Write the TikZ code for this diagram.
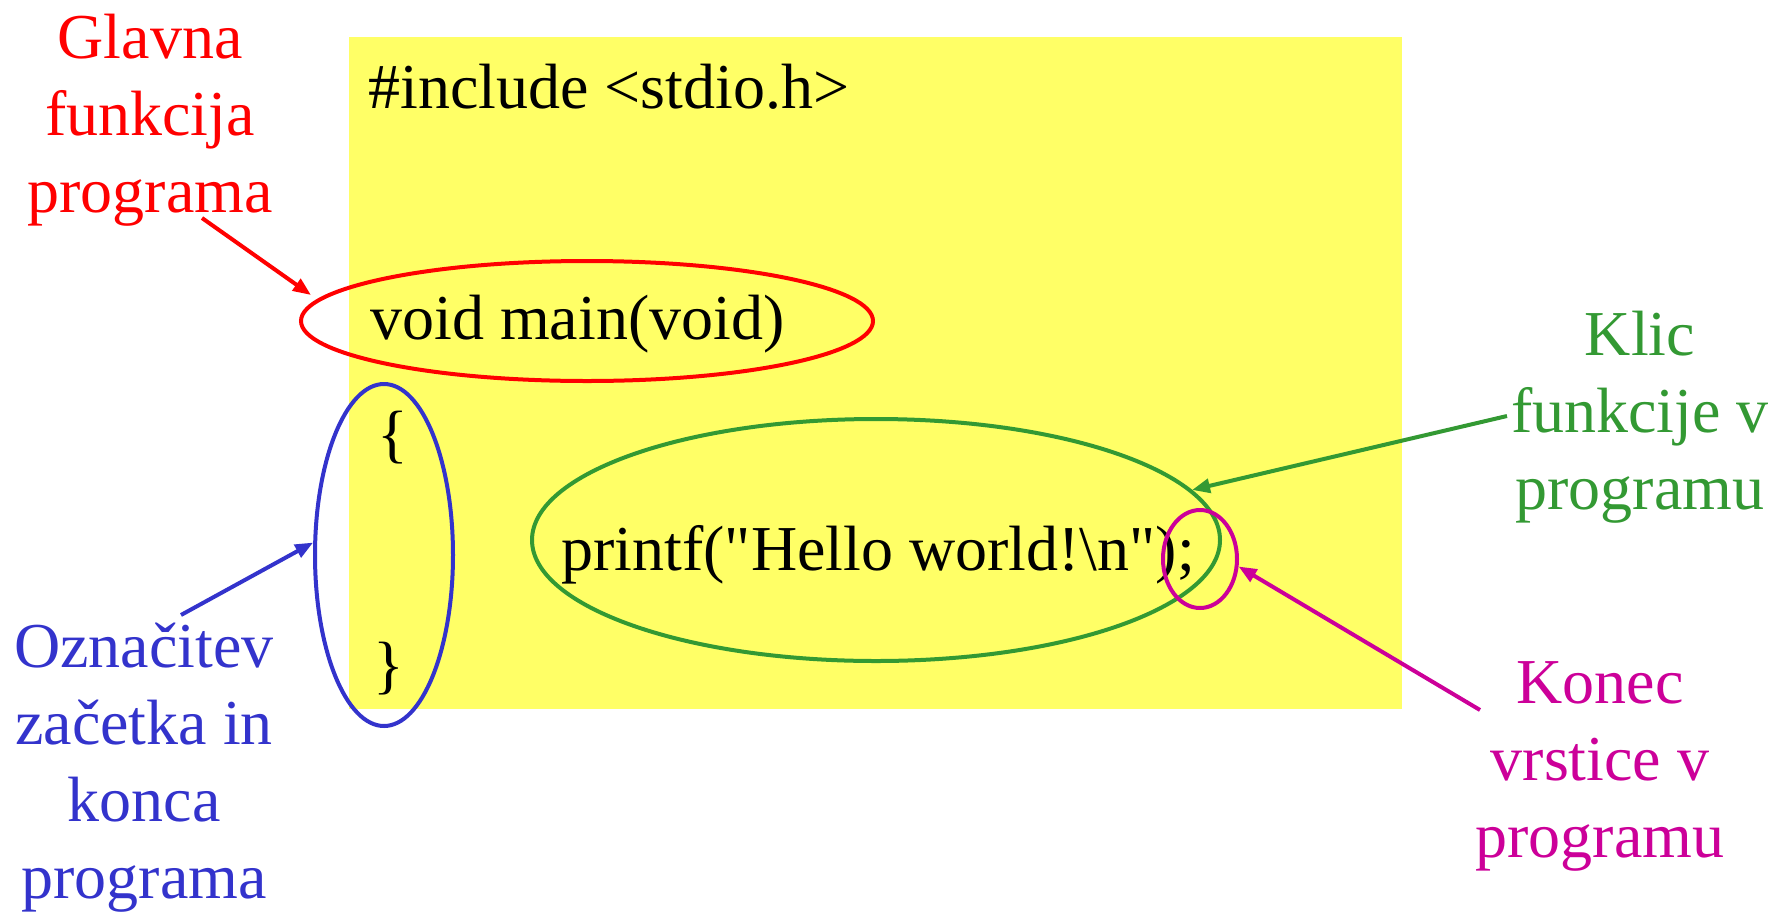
\documentclass[tikz,border=0pt]{standalone}
\usepackage{fontspec}
\setmainfont{Liberation Serif}
\newfontfamily\codefont{Liberation Serif}
\usetikzlibrary{shapes.geometric,arrows.meta}
\definecolor{cred}{HTML}{FF0000}
\definecolor{cgreen}{HTML}{339933}
\definecolor{cblue}{HTML}{3333CC}
\definecolor{cmag}{HTML}{CC0099}
\definecolor{cyel}{HTML}{FFFF66}
\begin{document}
\begin{tikzpicture}[x=0.5pt,y=-0.5pt,
  code/.style={anchor=base west,inner sep=0pt,font=\codefont\fontsize{32}{38.5}\selectfont},
  lbl/.style={anchor=base,inner sep=0pt,align=center,font=\fontsize{32}{38.5}\selectfont},
  ring/.style={ellipse,draw,line width=2pt,inner sep=0pt},
  arr/.style={line width=2pt,-{Triangle[length=9pt,width=7pt]}}]
\useasboundingbox (0,0) rectangle (1773,911);
\fill[cyel] (349,37) rectangle (1402,709);
\node[code] (inc) at (368,108) {\#include <stdio.h>};
\node[code] (mainl) at (370,339) {void main(void)};
\node[code] (ob) at (377,455) {\{};
\node[code] (pf) at (561,570) {printf("Hello world!\textbackslash n");};
\node[code] (cb) at (373,686) {\}};
\node[ring,cred,minimum width=286pt,minimum height=60pt] (redell) at (587,321) {};
\node[ring,cblue,minimum width=69pt,minimum height=171pt] (blueell) at (384,555) {};
\node[ring,cgreen,minimum width=344pt,minimum height=121pt] (greenell) at (876,540) {};
\node[ring,cmag,minimum width=37pt,minimum height=49pt] (magell) at (1200,559) {};
\node[lbl,cred] (lred) at (150,212) {Glavna\\funkcija\\programa};
\node[lbl,cgreen] (lgreen) at (1640,509) {Klic\\funkcije v\\programu};
\node[lbl,cmag] (lmag) at (1600,857) {Konec\\vrstice v\\programu};
\node[lbl,cblue] (lblue) at (144,898) {Označitev\\začetka in\\konca\\programa};
\coordinate (tred) at (202,218);
\coordinate (hred) at (311,295);
\coordinate (tblue) at (181,615);
\coordinate (tgreen) at (1507,416);
\coordinate (tmag) at (1480,710);
\draw[arr,cred] (tred) -- (hred);
\draw[arr,cblue] (tblue) -- (blueell.170);
\draw[arr,cgreen] (tgreen) -- (greenell.9.3);
\draw[arr,cmag] (tmag) -- (magell.-11);
\end{tikzpicture}
\end{document}
